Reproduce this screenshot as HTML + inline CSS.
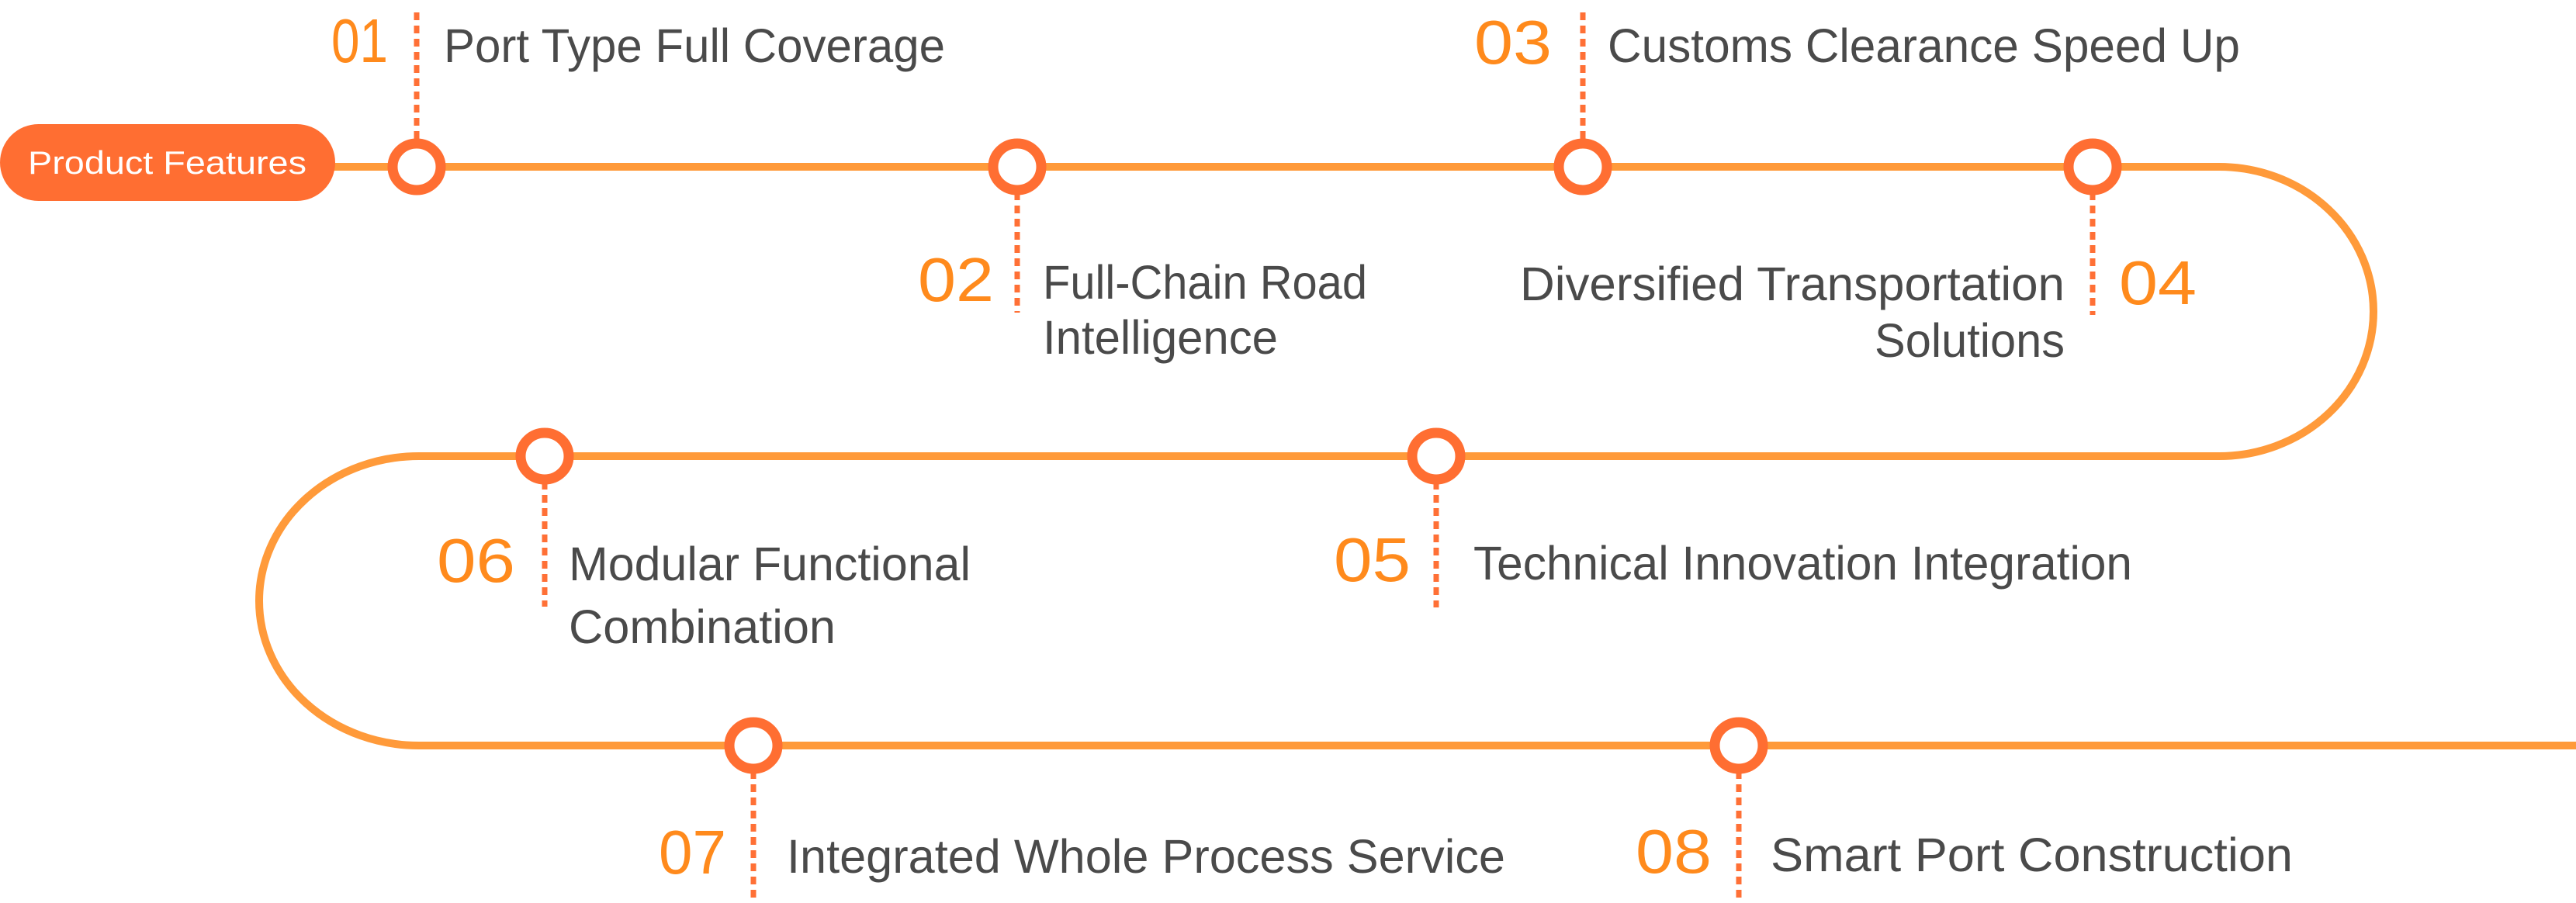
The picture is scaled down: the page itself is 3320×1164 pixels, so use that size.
<!DOCTYPE html>
<html><head><meta charset="utf-8"><style>
html,body{margin:0;padding:0;background:#fff;}
svg{display:block;}
text{font-family:"Liberation Sans",sans-serif;}
.t{fill:#4a4a4a;font-size:61px;}
.n{fill:#ff8a1c;font-size:80px;}
</style></head><body>
<svg width="3320" height="1164" viewBox="0 0 3320 1164" xmlns="http://www.w3.org/2000/svg">
<path d="M300 215 H2860 A199 186.5 0 0 1 2860 588 H540 A206 186.5 0 0 0 540 961 H3320" fill="none" stroke="#ff9a3a" stroke-width="10"/>
<rect x="0" y="160" width="432" height="99" rx="49.5" fill="#ff6e32"/>
<text x="36" y="224" font-size="42" fill="#fff" textLength="359" lengthAdjust="spacingAndGlyphs">Product Features</text>
<g stroke="#ff7036" stroke-width="7" stroke-dasharray="10 7" fill="none">
<line x1="537" y1="16" x2="537" y2="182"/>
<line x1="1311" y1="248" x2="1311" y2="403"/>
<line x1="2040" y1="16" x2="2040" y2="182"/>
<line x1="2697" y1="248" x2="2697" y2="406"/>
<line x1="702" y1="621" x2="702" y2="782"/>
<line x1="1851" y1="621" x2="1851" y2="783"/>
<line x1="971" y1="994" x2="971" y2="1164"/>
<line x1="2241" y1="994" x2="2241" y2="1160"/>
</g>
<g fill="#fff" stroke="#ff6e32" stroke-width="13">
<ellipse cx="537" cy="215" rx="31" ry="30"/>
<ellipse cx="1311" cy="215" rx="31" ry="30"/>
<ellipse cx="2040" cy="215" rx="31" ry="30"/>
<ellipse cx="2697" cy="215" rx="31" ry="30"/>
<ellipse cx="702" cy="588" rx="31" ry="30"/>
<ellipse cx="1851" cy="588" rx="31" ry="30"/>
<ellipse cx="971" cy="961" rx="31" ry="30"/>
<ellipse cx="2241" cy="961" rx="31" ry="30"/>
</g>
<text class="n" x="427" y="80" textLength="73" lengthAdjust="spacingAndGlyphs">01</text>
<text class="t" x="572" y="80" textLength="646" lengthAdjust="spacingAndGlyphs">Port Type Full Coverage</text>
<text class="n" x="1183" y="388" textLength="98" lengthAdjust="spacingAndGlyphs">02</text>
<text class="t" x="1344" y="385" textLength="418" lengthAdjust="spacingAndGlyphs">Full-Chain Road</text>
<text class="t" x="1344" y="456" textLength="303" lengthAdjust="spacingAndGlyphs">Intelligence</text>
<text class="n" x="1900" y="82" textLength="100" lengthAdjust="spacingAndGlyphs">03</text>
<text class="t" x="2072" y="80" textLength="815" lengthAdjust="spacingAndGlyphs">Customs Clearance Speed Up</text>
<text class="n" x="2731" y="392" textLength="100" lengthAdjust="spacingAndGlyphs">04</text>
<text class="t" x="1959" y="387" textLength="702" lengthAdjust="spacingAndGlyphs">Diversified Transportation</text>
<text class="t" x="2416" y="460" textLength="245" lengthAdjust="spacingAndGlyphs">Solutions</text>
<text class="n" x="563" y="750" textLength="101" lengthAdjust="spacingAndGlyphs">06</text>
<text class="t" x="733" y="748" textLength="518" lengthAdjust="spacingAndGlyphs">Modular Functional</text>
<text class="t" x="733" y="829" textLength="344" lengthAdjust="spacingAndGlyphs">Combination</text>
<text class="n" x="1719" y="749" textLength="99" lengthAdjust="spacingAndGlyphs">05</text>
<text class="t" x="1899" y="747" textLength="849" lengthAdjust="spacingAndGlyphs">Technical Innovation Integration</text>
<text class="n" x="849" y="1126" textLength="87" lengthAdjust="spacingAndGlyphs">07</text>
<text class="t" x="1014" y="1125" textLength="926" lengthAdjust="spacingAndGlyphs">Integrated Whole Process Service</text>
<text class="n" x="2108" y="1125" textLength="98" lengthAdjust="spacingAndGlyphs">08</text>
<text class="t" x="2282" y="1123" textLength="673" lengthAdjust="spacingAndGlyphs">Smart Port Construction</text>
</svg>
</body></html>
